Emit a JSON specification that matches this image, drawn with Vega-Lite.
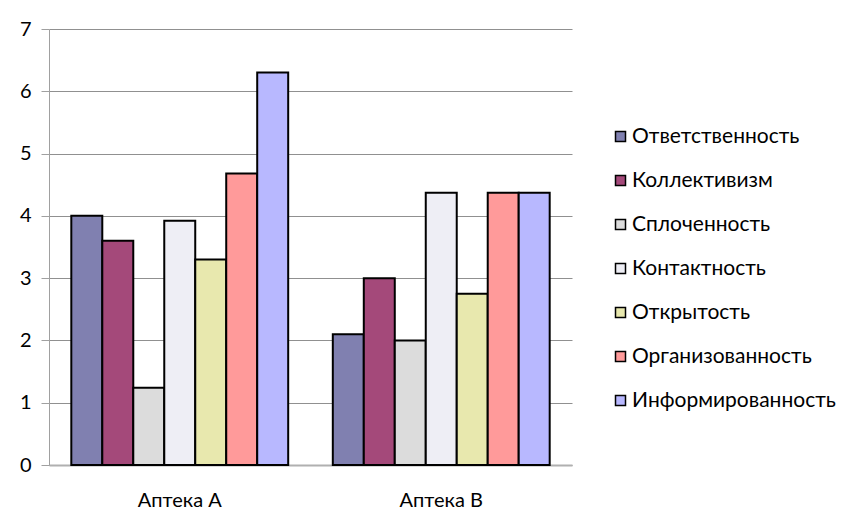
{
  "$schema": "https://vega.github.io/schema/vega-lite/v6.json",
  "autosize": {"type": "none"},
  "padding": {"left": 49, "top": 29, "right": 282, "bottom": 48},
  "width": 523,
  "height": 436,
  "background": "white",
  "config": {"view": {"stroke": null}, "font": "Lato"},
  "data": {"values": [
    {"apt": "Аптека А", "trait": "Ответственность", "value": 4.0},
    {"apt": "Аптека А", "trait": "Коллективизм", "value": 3.6},
    {"apt": "Аптека А", "trait": "Сплоченность", "value": 1.24},
    {"apt": "Аптека А", "trait": "Контактность", "value": 3.92},
    {"apt": "Аптека А", "trait": "Открытость", "value": 3.3},
    {"apt": "Аптека А", "trait": "Организованность", "value": 4.68},
    {"apt": "Аптека А", "trait": "Информированность", "value": 6.3},
    {"apt": "Аптека В", "trait": "Ответственность", "value": 2.1},
    {"apt": "Аптека В", "trait": "Коллективизм", "value": 3.0},
    {"apt": "Аптека В", "trait": "Сплоченность", "value": 2.0},
    {"apt": "Аптека В", "trait": "Контактность", "value": 4.37},
    {"apt": "Аптека В", "trait": "Открытость", "value": 2.75},
    {"apt": "Аптека В", "trait": "Организованность", "value": 4.37},
    {"apt": "Аптека В", "trait": "Информированность", "value": 4.37}
  ]},
  "mark": {"type": "bar", "stroke": "black", "strokeWidth": 2, "opacity": 1},
  "encoding": {
    "x": {
      "field": "apt", "type": "nominal",
      "scale": {"paddingInner": 0, "paddingOuter": 0},
      "axis": {"title": null, "labelAngle": 0, "ticks": false, "labelPadding": 25,
               "labelFontSize": 20, "labelColor": "black", "domainColor": "#b0b0b0", "domainWidth": 2}
    },
    "xOffset": {
      "field": "trait", "type": "nominal",
      "sort": ["Ответственность", "Коллективизм", "Сплоченность", "Контактность", "Открытость", "Организованность", "Информированность"],
      "scale": {"paddingInner": 0, "paddingOuter": 0.72}
    },
    "y": {
      "field": "value", "type": "quantitative",
      "scale": {"domain": [0, 7], "nice": false},
      "axis": {"title": null, "values": [0,1,2,3,4,5,6,7], "ticks": true, "tickSize": 8, "tickColor": "#a0a0a0",
               "domainColor": "#a0a0a0", "gridColor": "#909090", "labelPadding": 10, "labelOverlap": false,
               "labelFontSize": 20, "labelColor": "black"}
    },
    "color": {
      "field": "trait", "type": "nominal",
      "sort": ["Ответственность", "Коллективизм", "Сплоченность", "Контактность", "Открытость", "Организованность", "Информированность"],
      "scale": {
        "domain": ["Ответственность", "Коллективизм", "Сплоченность", "Контактность", "Открытость", "Организованность", "Информированность"],
        "range": ["#8080B0", "#A4497A", "#DCDCDC", "#EEEEF5", "#E8E8AE", "#FF9A9A", "#B8B8FF"]
      },
      "legend": {
        "title": null, "orient": "none", "legendX": 561, "legendY": 97,
        "symbolType": "square", "symbolSize": 100, "symbolStrokeColor": "black", "symbolStrokeWidth": 1.5,
        "symbolOpacity": 1, "labelLimit": 300,
        "labelFontSize": 21, "labelColor": "black", "rowPadding": 22, "labelOffset": 1
      }
    }
  }
}
